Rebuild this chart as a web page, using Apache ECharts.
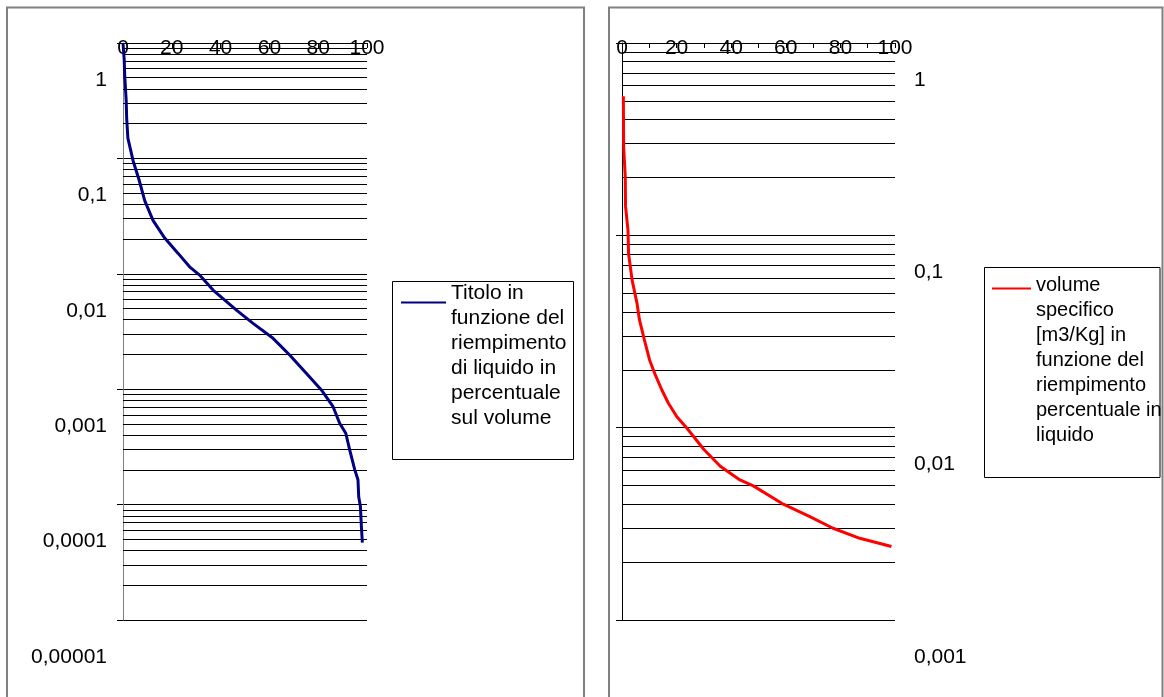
<!DOCTYPE html>
<html>
<head>
<meta charset="utf-8">
<script src="https://cdn.jsdelivr.net/npm/echarts@6/dist/echarts.min.js"></script>
<style>
  html, body { margin: 0; padding: 0; background: #fff; }
  #chart { width: 1164px; height: 697px; }
</style>
</head>
<body>
<div id="chart"></div>
<script>
// riempimento percentuale di liquido (asse x) e titolo (asse y, log)
var titoloX = [0, 0.5, 0.7, 1.3, 1.5, 2.0, 4.1, 6.6, 8.9, 12.3, 17.1, 22.5, 27.3, 31.4, 36.9, 46.5, 53.3, 61.5, 68.3, 75.2, 81.3, 86.1, 88.8, 91.3, 92.9, 95.0, 96.3, 96.6, 97.3, 97.7, 98.1];
var titoloY = [1, 0.71, 0.52, 0.32, 0.223, 0.15, 0.096, 0.065, 0.043, 0.029, 0.0204, 0.0151, 0.0115, 0.00975, 0.00723, 0.00485, 0.00372, 0.00276, 0.00198, 0.00137, 0.000985, 0.000705, 0.000507, 0.000415, 0.000298, 0.0002, 0.000164, 0.000117, 0.0000961, 0.0000645, 0.0000469];

// volume specifico [m3/Kg]
var volumeX = [0.5, 0.6, 1.2, 1.3, 2.2, 2.4, 3.7, 5.5, 6.4, 8.2, 10.1, 12.2, 14.6, 17.0, 20.1, 23.8, 30, 36, 43.2, 48.1, 59.1, 68.8, 77.3, 87.1, 98.7];
var volumeY = [0.529, 0.288, 0.201, 0.141, 0.106, 0.0805, 0.0585, 0.0443, 0.0363, 0.0286, 0.0225, 0.0188, 0.0157, 0.0134, 0.0114, 0.00993, 0.0077, 0.0063, 0.00535, 0.00498, 0.0040, 0.00345, 0.0030, 0.00266, 0.00241];

// etichette assi
var titoloTickLabels = ['1', '0,1', '0,01', '0,001', '0,0001', '0,00001'];
var volumeTickLabels = ['1', '0,1', '0,01', '0,001'];

// testo legende (a capo come nell'originale)
var titoloLegend = ['Titolo in', 'funzione del', 'riempimento', 'di liquido in', 'percentuale', 'sul volume'];
var volumeLegend = ['volume', 'specifico', '[m3/Kg] in', 'funzione del', 'riempimento', 'percentuale in', 'liquido'];

var titoloName = titoloLegend.join(' ');
var volumeName = volumeLegend.join(' ');
var FONT = 'Liberation Sans';

function pairs(xs, ys) {
  return xs.map(function (x, i) { return [x, ys[i]]; });
}

// griglia secondaria: 2..9 x 10^k
function minorGrid(decades) {
  var out = [];
  for (var k = 1; k <= decades; k++) {
    for (var m = 2; m <= 9; m++) {
      out.push({ yAxis: +(m * Math.pow(10, -k)).toPrecision(3) });
    }
  }
  return out;
}

function logLabel(labels) {
  return function (v) {
    return labels[Math.round(-Math.log10(v))];
  };
}

// prima riga "vuota" alta per abbassare il testo rispetto al simbolo
function legendText(lines) {
  return '{s| }\n' + lines.map(function (l) { return '{t|' + l + '}'; }).join('\n');
}

function legendCfg(name, lines, left, top, spacer, fontSize, itemWidth) {
  return {
    data: [name], left: left, top: top, selectedMode: false,
    itemWidth: itemWidth, itemHeight: 4,
    itemStyle: { opacity: 0 },
    padding: 0,
    formatter: function () { return legendText(lines); },
    textStyle: {
      fontFamily: FONT, fontSize: fontSize, color: '#000',
      rich: {
        s: { fontSize: fontSize, lineHeight: spacer },
        t: { fontFamily: FONT, fontSize: fontSize, lineHeight: 25, color: '#000' }
      }
    }
  };
}

function xAxisCfg(grid, minor) {
  return {
    type: 'value', gridIndex: grid, position: 'top', min: 0, max: 100, interval: 20,
    axisLine: { lineStyle: { color: '#000', width: 1 } },
    axisTick: { show: true, inside: true, length: 5, lineStyle: { color: '#000' } },
    minorTick: { show: minor, splitNumber: 2, length: 5, lineStyle: { color: '#000' } },
    splitLine: { show: false },
    axisLabel: {
      fontFamily: FONT, fontSize: 21, color: '#000', margin: -16,
      showMinLabel: true, showMaxLabel: true
    }
  };
}

// etichette y spostate sotto la tacca, come in Excel
function yLabelCfg(labels, inside, margin) {
  return {
    inside: inside, margin: margin,
    fontFamily: FONT, fontSize: 21, lineHeight: 74, verticalAlign: 'top', color: '#000',
    showMinLabel: true, showMaxLabel: true, hideOverlap: false,
    formatter: logLabel(labels)
  };
}

function gridLines(decades) {
  return {
    silent: true, symbol: 'none', z: 1, precision: 10, label: { show: false },
    lineStyle: { color: '#000', width: 1, type: 'solid' },
    data: minorGrid(decades)
  };
}

var chart = echarts.init(document.getElementById('chart'));

chart.setOption({
  animation: false,
  backgroundColor: '#fff',
  graphic: [
    { type: 'rect', shape: { x: 7, y: 7.5, width: 577, height: 720 },
      style: { fill: 'none', stroke: '#808080', lineWidth: 2 }, z: -1 },
    { type: 'rect', shape: { x: 609, y: 7.5, width: 553.5, height: 720 },
      style: { fill: 'none', stroke: '#808080', lineWidth: 2 }, z: -1 },
    // cornici delle legende
    { type: 'rect', shape: { x: 392.5, y: 281.5, width: 181, height: 178 },
      style: { fill: 'none', stroke: '#000', lineWidth: 1 } },
    { type: 'rect', shape: { x: 984.5, y: 267.5, width: 175.5, height: 210 },
      style: { fill: 'none', stroke: '#000', lineWidth: 1 } }
  ],
  grid: [
    { left: 123, top: 43, width: 244, height: 577, outerBoundsMode: 'none' },
    { left: 622, top: 43, width: 273, height: 577, outerBoundsMode: 'none' }
  ],
  xAxis: [xAxisCfg(0, false), xAxisCfg(1, true)],
  yAxis: [
    {
      type: 'log', logBase: 10, gridIndex: 0, min: 0.00001, max: 1,
      axisLine: { show: true, lineStyle: { color: '#808080', width: 1 } },
      axisTick: { show: true, length: 6, lineStyle: { color: '#000' } },
      splitLine: { show: true, lineStyle: { color: '#000', width: 1 } },
      axisLabel: yLabelCfg(titoloTickLabels, false, 16)
    },
    {
      type: 'log', logBase: 10, gridIndex: 1, min: 0.001, max: 1,
      axisLine: { show: true, lineStyle: { color: '#000', width: 1 } },
      axisTick: { show: true, length: 6, lineStyle: { color: '#000' } },
      splitLine: { show: true, lineStyle: { color: '#000', width: 1 } },
      axisLabel: yLabelCfg(volumeTickLabels, true, 292)
    }
  ],
  legend: [
    legendCfg(titoloName, titoloLegend, 400, 217, 107, 21, 45),
    legendCfg(volumeName, volumeLegend, 991, 191, 144, 20, 39)
  ],
  series: [
    {
      name: titoloName, type: 'line', xAxisIndex: 0, yAxisIndex: 0, z: 3,
      symbol: 'none', color: '#000080',
      lineStyle: { color: '#000080', width: 3 },
      data: pairs(titoloX, titoloY),
      markLine: gridLines(5)
    },
    {
      name: volumeName, type: 'line', xAxisIndex: 1, yAxisIndex: 1, z: 3,
      symbol: 'none', color: '#ff0000',
      lineStyle: { color: '#ff0000', width: 3 },
      data: pairs(volumeX, volumeY),
      markLine: gridLines(3)
    }
  ]
});
</script>
</body>
</html>
